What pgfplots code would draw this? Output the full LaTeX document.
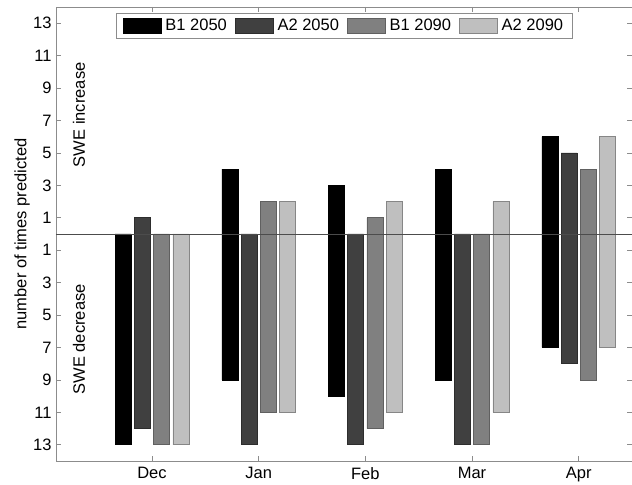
\documentclass[border=0pt]{standalone}
\usepackage{pgfplots}
\pgfplotsset{compat=1.18}
\usepackage{fontspec}
\setmainfont{Liberation Sans}
\definecolor{cB}{HTML}{000000}
\definecolor{cA}{HTML}{404040}
\definecolor{cC}{HTML}{808080}
\definecolor{cD}{HTML}{BFBFBF}
\definecolor{axc}{HTML}{8C8C8C}
\newcommand{\ff}{\fontsize{16.5}{19}\selectfont}
\begin{document}
\begin{tikzpicture}
\begin{axis}[
  scale only axis, width=576pt, height=454pt,
  xmin=0.1, xmax=5.5, ymin=-14, ymax=14,
  ybar, bar width=0.15,
  xtick={1,2,3,4,5}, xticklabels={Dec,Jan,Feb,Mar,Apr},
  ytick={-13,-11,...,13},
  yticklabels={13,11,9,7,5,3,1,1,3,5,7,9,11,13},
  tick align=inside, major tick length=5pt,
  axis line style={color=axc, line width=0.8pt},
  every tick/.style={axc, line width=0.8pt},
  /pgf/number format/assume math mode=true,
  ticklabel style={font=\ff, black},
  yticklabel style={xshift=-1pt},
  xticklabel style={yshift=-3pt},
  ylabel={number of times predicted},
  ylabel style={font=\ff, at={(axis description cs:-0.059,0.5)}, anchor=center},
  legend columns=4,
  legend style={at={(0.5,0.987)}, anchor=north, draw=axc, font=\ff,
    inner xsep=7pt, inner ysep=4pt,
    /tikz/every even column/.append style={column sep=6pt}},
  legend image code/.code={\draw[#1] (0pt,-7.5pt) rectangle (38pt,7.5pt); \path (40pt,0pt);},
  clip=false,
]
\addplot[bar shift=-0.27, fill=cB, draw=black, line width=0.6pt]
  coordinates {(1,-13) (2,4) (2,-9) (3,3) (3,-10) (4,4) (4,-9) (5,6) (5,-7)};
\addplot[bar shift=-0.09, fill=cA, draw=cA!70!black, line width=0.6pt]
  coordinates {(1,1) (1,-12) (2,-13) (3,-13) (4,-13) (5,5) (5,-8)};
\addplot[bar shift=0.09, fill=cC, draw=cC!75!black, line width=0.6pt]
  coordinates {(1,-13) (2,2) (2,-11) (3,1) (3,-12) (4,-13) (5,4) (5,-9)};
\addplot[bar shift=0.27, fill=cD, draw=cD!70!black, line width=0.6pt]
  coordinates {(1,-13) (2,2) (2,-11) (3,2) (3,-11) (4,2) (4,-11) (5,6) (5,-7)};
\legend{B1 2050, A2 2050, B1 2090, A2 2090}
\addplot[sharp plot, forget plot, draw=black!70, line width=0.7pt] coordinates {(0.1,0) (5.5,0)};
\node[rotate=90, font=\ff] at (axis cs:0.315,7.35) {SWE increase};
\node[rotate=90, font=\ff] at (axis cs:0.315,-6.5) {SWE decrease};
\end{axis}
\pgfresetboundingbox
\path ([xshift=-56pt,yshift=-24pt]current axis.south west) rectangle ([yshift=7pt]current axis.north east);
\end{tikzpicture}
\end{document}
